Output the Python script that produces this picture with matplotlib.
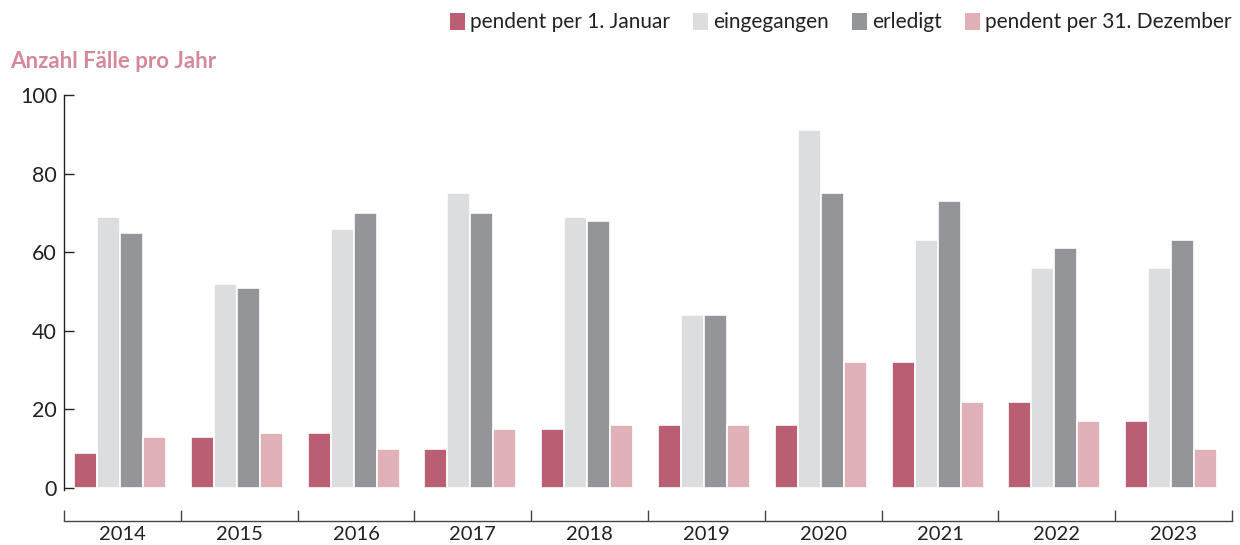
import matplotlib
matplotlib.use("Agg")
import matplotlib.pyplot as plt
from matplotlib.patches import Patch
import numpy as np

years = ["2014", "2015", "2016", "2017", "2018", "2019", "2020", "2021", "2022", "2023"]
pendent_jan = [9, 13, 14, 10, 15, 16, 16, 32, 22, 17]
eingegangen = [69, 52, 66, 75, 69, 44, 91, 63, 56, 56]
erledigt = [65, 51, 70, 70, 68, 44, 75, 73, 61, 63]
pendent_dez = [13, 14, 10, 15, 16, 16, 32, 22, 17, 10]

series_labels = ["pendent per 1. Januar", "eingegangen", "erledigt", "pendent per 31. Dezember"]
colors = ["#b95e73", "#dcdddf", "#949599", "#dfb0b8"]
y_ticks = [0, 20, 40, 60, 80, 100]

plt.rcParams["font.family"] = ["Lato", "DejaVu Sans"]
text_color = "#222222"

fig = plt.figure(figsize=(12.4, 5.45), dpi=100)
ax = fig.add_axes([64 / 1240, 57 / 545, 1168 / 1240, 393 / 545])

x = np.arange(len(years))
bar_w = 0.197
offsets = np.array([-1.5, -0.5, 0.5, 1.5]) * bar_w - 0.02
data = [pendent_jan, eingegangen, erledigt, pendent_dez]
for off, vals, col, lab in zip(offsets, data, colors, series_labels):
    ax.bar(x + off, vals, width=bar_w, color=col, edgecolor="white",
           linewidth=1.2, label=lab)

ax.set_xlim(-0.5, len(years) - 0.5)
ax.set_ylim(0, 100)

# left axis
ax.spines["top"].set_visible(False)
ax.spines["right"].set_visible(False)
ax.spines["left"].set_bounds(-0.5, 100)
ax.spines["left"].set_linewidth(1.0)
ax.spines["left"].set_color(text_color)
ax.set_yticks(y_ticks)
ax.tick_params(axis="y", direction="in", length=7, width=1.0, pad=5,
               labelsize=15.5, colors=text_color)

# bottom axis, detached below the bars
ax.spines["bottom"].set_position(("outward", 24))
ax.spines["bottom"].set_color("#444444")
ax.spines["bottom"].set_linewidth(1.0)
ax.set_xticks(np.arange(-0.5, len(years), 1.0))
ax.set_xticklabels([])
ax.set_xticks(x, minor=True)
ax.set_xticklabels(years, minor=True)
ax.tick_params(axis="x", which="major", direction="in", length=8, width=1.0,
               colors="#444444")
ax.tick_params(axis="x", which="minor", length=0, pad=3, labelsize=14.5,
               labelcolor=text_color)

fig.text(10 / 1240, 1 - 62 / 545, "Anzahl Fälle pro Jahr", color="#d4899a",
         fontsize=16, fontweight="bold", va="center", ha="left")

legend_handles = [Patch(facecolor=c, edgecolor="none") for c in colors]
fig.legend(handles=legend_handles, labels=series_labels, loc="upper right",
           bbox_to_anchor=(1.003, 1.0), ncol=4, frameon=False, fontsize=15,
           handlelength=0.72, handleheight=0.85, handletextpad=0.25,
           columnspacing=1.1, borderaxespad=0.2, labelcolor=text_color)

fig.savefig("out.png", dpi=100)
